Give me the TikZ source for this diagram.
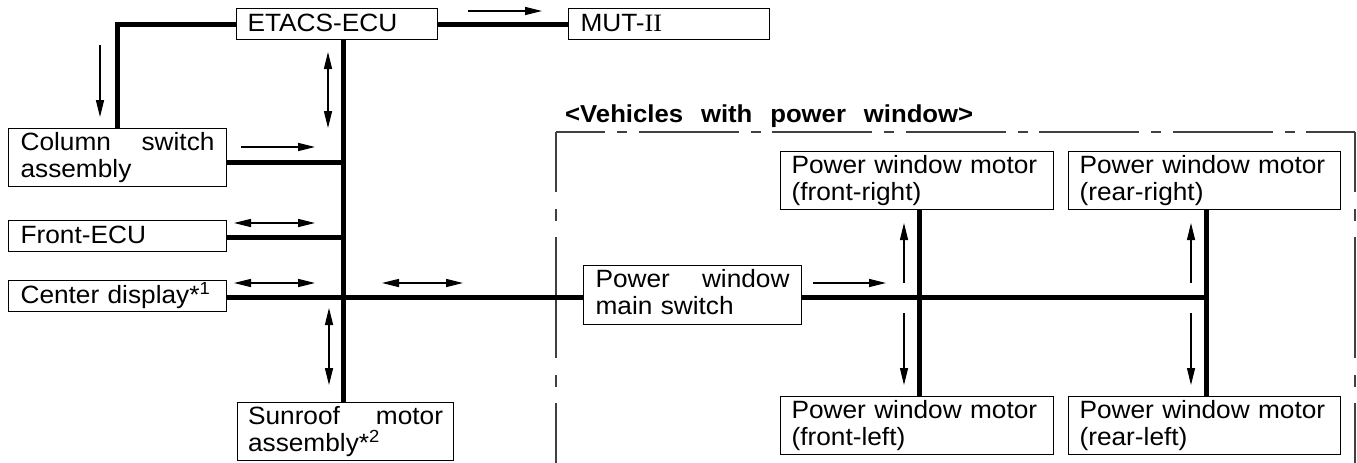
\documentclass[tikz,border=0pt]{standalone}
\usepackage{fontspec}
\setmainfont{Liberation Sans}[FakeStretch=1.05]
\newfontfamily\romfont{Liberation Serif}[FakeStretch=1.05]
\usetikzlibrary{arrows.meta}
\begin{document}
\begin{tikzpicture}[x=1pt,y=-1pt,
  box/.style={draw, line width=1.1pt, anchor=north west, inner xsep=11pt, inner ysep=0pt, align=left, font=\fontsize{25}{27}\selectfont},
  one/.style={text height=23pt, text depth=8pt},
  two/.style={text height=22pt, text depth=36pt},
  bus/.style={line width=5pt, line join=miter},
  sig/.style={line width=1.3pt, -{Triangle[length=17pt,width=8pt]}},
  sigb/.style={line width=1.3pt, {Triangle[length=17pt,width=8pt]}-{Triangle[length=17pt,width=8pt]}},
  frame/.style={line width=1.2pt, draw=black!75},
  hpat/.style={dash pattern=on 100pt off 12pt on 10pt off 11.5pt, dash phase=51pt},
  vpat/.style={dash pattern=on 121pt off 17pt on 12pt off 16pt, dash phase=61pt}]
\useasboundingbox (0,0) rectangle (1357,463);
\fill[white] (0,0) rectangle (1357,463);

% frame of the power-window group
\draw[frame,hpat] (556,132) -- (1355,132);
\draw[frame,vpat] (556,132) -- (556,463);
\draw[frame,vpat] (1355,132) -- (1355,463);
\node[anchor=base west, inner sep=0pt, font=\bfseries\fontsize{24.5}{27}\selectfont] (title) at (565,122)
  {\makebox[408pt][s]{<Vehicles with power window>}};

% boxes
\node[box, one, text width=179pt] (etacs) at (236,8) {ETACS-ECU};
\node[box, one, inner xsep=12pt, text width=177pt] (mut) at (568,8) {MUT-{\romfont II}};
\node[box, two, inner xsep=12pt, text width=194pt] (column) at (8,128) {\hbox to 194pt{Column\hfill switch}\\assembly};
\node[box, one, inner xsep=12pt, text width=194pt] (front) at (8,220) {Front-ECU};
\node[box, one, inner xsep=12pt, text width=194pt] (center) at (8,280) {Center display*\textsuperscript{1}};
\node[box, two, inner xsep=10.5pt, text width=195pt] (sunroof) at (237,402) {\hbox to 195pt{Sunroof\hfill motor}\\assembly*\textsuperscript{2}};
\node[box, two, inner xsep=12pt, text width=194pt, text depth=37pt] (pwms) at (583,265) {\hbox to 194pt{Power\hfill window}\\main switch};
\node[box, two, text width=251pt] (fr) at (780,151) {Power window motor\\(front-right)};
\node[box, two, text width=250pt] (rr) at (1068,151) {Power window motor\\(rear-right)};
\node[box, two, text width=251pt] (fl) at (780,396) {Power window motor\\(front-left)};
\node[box, two, text width=250pt] (rl) at (1068,396) {Power window motor\\(rear-left)};

% junction coordinates
\coordinate (bx) at (343,0);
\coordinate (jc) at (343,162);
\coordinate (jf) at (343,237);
\coordinate (jm) at (343,297);
\coordinate (vf) at (919,297);
\coordinate (vr) at (1206,297);

% bus lines
\draw[bus] (etacs.west) -| (column.north);
\draw[bus] (etacs.east) -- (mut.west);
\draw[bus] (etacs.south -| bx) -- (sunroof.north -| bx);
\draw[bus] (column.east |- jc) -- (jc);
\draw[bus] (front.east |- jf) -- (jf);
\draw[bus] (center.east |- jm) -- (pwms.west |- jm);
\draw[bus] (pwms.east |- vr) -- (vr);
\draw[bus] (fr.south -| vf) -- (fl.north -| vf);
\draw[bus] (rr.south -| vr) -- (rl.north -| vr);

% signal arrows
\draw[sig] (468,11) -- (542,11);
\draw[sig] (100,45) -- (100,117);
\draw[sigb] (328,52) -- (328,128);
\draw[sig] (241,147) -- (315,147);
\draw[sigb] (234,223) -- (315,223);
\draw[sigb] (234,283) -- (315,283);
\draw[sigb] (382,283) -- (463,283);
\draw[sigb] (329,308) -- (329,385);
\draw[sig] (813,283) -- (886,283);
\draw[sig] (904,283) -- (904,223);
\draw[sig] (904,313) -- (904,385);
\draw[sig] (1191,283) -- (1191,223);
\draw[sig] (1191,313) -- (1191,385);
\end{tikzpicture}
\end{document}
